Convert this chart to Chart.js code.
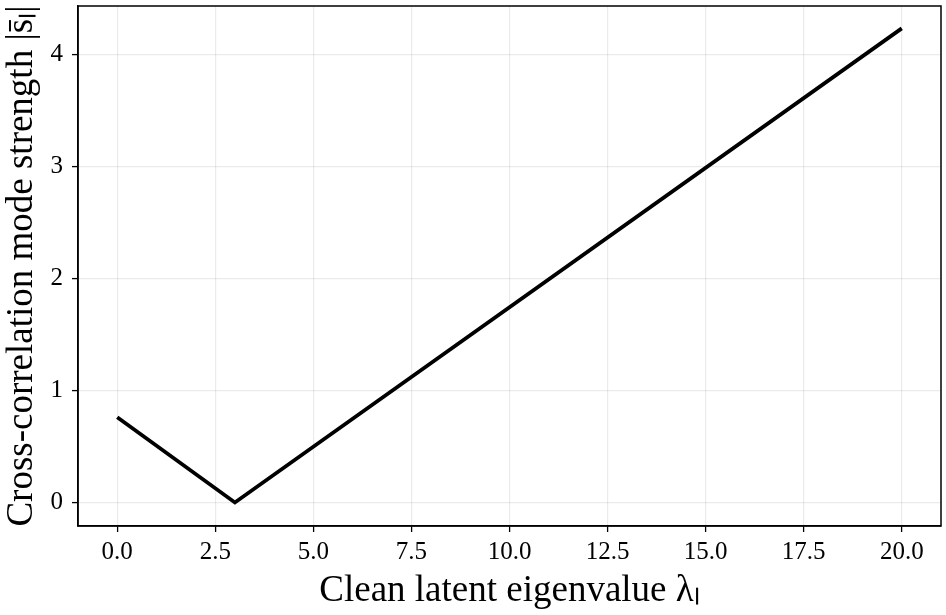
<!DOCTYPE html>
<html>
<head>
<meta charset="utf-8">
<script src="https://cdn.jsdelivr.net/npm/chart.js@4/dist/chart.umd.min.js"></script>
<style>
    html, body { margin: 0; padding: 0; background: #ffffff; }
    #wrap { width: 946px; height: 615px; }
</style>
</head>
<body>
<div id="wrap"><canvas id="modeChart" width="946" height="615"></canvas></div>
<script>
// eigenvalue (x) and mode strength (y)
const eigenvalues = [0, 3, 20];
const strengths = [0.76, 0, 4.23];
const xTicks = [0, 2.5, 5, 7.5, 10, 12.5, 15, 17.5, 20];
const yTicks = [0, 1, 2, 3, 4];

const serif = "'Liberation Serif', 'Times New Roman', serif";

// matplotlib-style full box around the plot area
const boxPlugin = {
    id: "box",
    afterDraw(chart) {
        const { ctx, chartArea: a } = chart;
        ctx.save();
        ctx.strokeStyle = "#000000";
        ctx.lineWidth = 1.5;
        ctx.strokeRect(a.left, a.top, a.right - a.left, a.bottom - a.top);
        ctx.restore();
    }
};

const points = eigenvalues.map((x, i) => ({ x, y: strengths[i] }));

new Chart(document.getElementById("modeChart"), {
    type: "line",
    data: {
        datasets: [{
            data: points,
            borderColor: "#000000",
            borderWidth: 3.8,
            pointRadius: 0,
            tension: 0,
            fill: false
        }]
    },
    options: {
        responsive: false,
        animation: false,
        layout: { padding: { top: 6, right: 5, left: 0, bottom: 0 } },
        plugins: {
            legend: { display: false },
            tooltip: { enabled: false }
        },
        scales: {
            x: {
                type: "linear",
                min: -1,
                max: 21,
                afterBuildTicks: scale => { scale.ticks = xTicks.map(v => ({ value: v })); },
                afterFit: scale => {
                    scale.height = 89;
                    scale.paddingLeft = 0;
                    scale.paddingRight = 0;
                },
                ticks: {
                    color: "#000000",
                    font: { family: serif, size: 25 },
                    padding: 5,
                    maxRotation: 0,
                    callback: v => v.toFixed(1)
                },
                grid: {
                    color: "rgba(0,0,0,0.08)",
                    lineWidth: 1.2,
                    tickColor: "#000000",
                    tickLength: 6,
                    tickWidth: 1.3
                },
                border: { color: "#000000", width: 1.5 },
                title: {
                    display: true,
                    text: "Clean latent eigenvalue λₗ",
                    color: "#000000",
                    font: { family: serif, size: 37 },
                    padding: { top: 0, bottom: 2 }
                }
            },
            y: {
                min: -0.21,
                max: 4.43,
                afterBuildTicks: scale => { scale.ticks = yTicks.map(v => ({ value: v })); },
                afterFit: scale => {
                    scale.width = 78;
                    scale.paddingTop = 0;
                    scale.paddingBottom = 0;
                },
                ticks: {
                    color: "#000000",
                    font: { family: serif, size: 25 },
                    padding: 9,
                    callback: v => String(v)
                },
                grid: {
                    color: "rgba(0,0,0,0.08)",
                    lineWidth: 1.2,
                    tickColor: "#000000",
                    tickLength: 6,
                    tickWidth: 1.3
                },
                border: { color: "#000000", width: 1.5 },
                title: {
                    display: true,
                    text: "Cross-correlation mode strength |s̄ₗ|",
                    color: "#000000",
                    font: { family: serif, size: 37 },
                    padding: { top: 0, bottom: 0 }
                }
            }
        }
    },
    plugins: [boxPlugin]
});
</script>
</body>
</html>
